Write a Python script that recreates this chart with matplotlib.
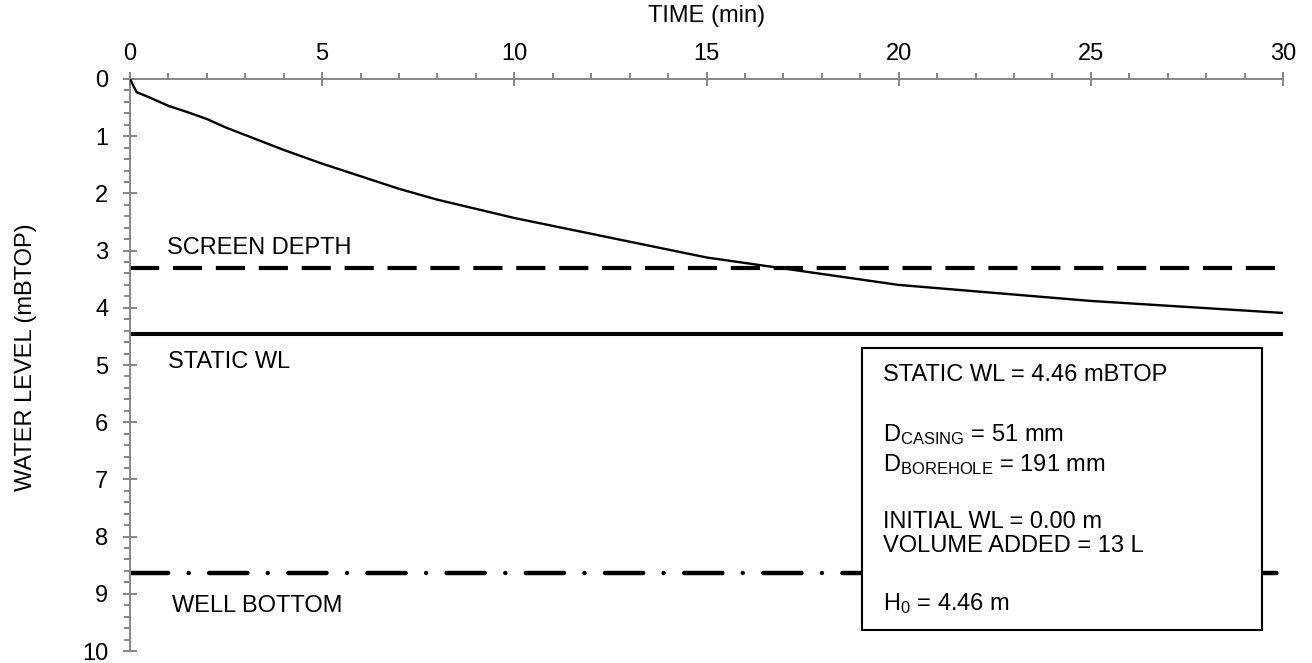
import matplotlib
matplotlib.use("Agg")
import matplotlib.pyplot as plt
from matplotlib.patches import Rectangle
from matplotlib.ticker import MultipleLocator

# Falling-head test data
time_min = [0, 0.17, 0.5, 1, 1.5, 2, 2.5, 3, 4, 5, 6, 7, 8, 9, 10, 15, 20, 25, 30]
water_level = [0, 0.23, 0.32, 0.47, 0.58, 0.70, 0.85, 0.98, 1.24, 1.48, 1.70, 1.92, 2.11,
               2.27, 2.43, 3.12, 3.60, 3.88, 4.09]

SCREEN_DEPTH = 3.30
STATIC_WL = 4.46
WELL_BOTTOM = 8.64

box_lines = [
    "STATIC WL = 4.46 mBTOP",
    r"D$_{\mathrm{CASING}}$ = 51 mm",
    r"D$_{\mathrm{BOREHOLE}}$ = 191 mm",
    "INITIAL WL = 0.00 m",
    "VOLUME ADDED = 13 L",
    r"H$_{\mathrm{0}}$ = 4.46 m",
]

plt.rcParams['font.family'] = ['Liberation Sans', 'DejaVu Sans']
plt.rcParams['mathtext.fontset'] = 'custom'
plt.rcParams['mathtext.rm'] = 'Liberation Sans'
plt.rcParams['mathtext.it'] = 'Liberation Sans'

AXCOL = "#868686"
FS = 17
W, H = 1312, 663

fig = plt.figure(figsize=(W/100, H/100), dpi=100)
ax = fig.add_axes([130/W, 1 - 651/H, 1153/W, 572/H])

# pixel helpers (figure pixel from top-left -> axes fraction)
def ax_x(px):
    return (px - 130) / 1153

def ax_y(py):
    return (651 - py) / 572

ax.plot(time_min, water_level, color="black", lw=1.7, zorder=4)
ax.plot([0, 30], [SCREEN_DEPTH]*2, color="black", lw=3.0,
        dashes=(7, 3.3), dash_capstyle="butt")
ax.plot([0, 30], [STATIC_WL]*2, color="black", lw=2.9)
ax.plot([0, 30], [WELL_BOTTOM]*2, color="black", lw=3.2,
        dashes=(8.6, 4.6, 0.01, 4.6), dash_capstyle="round")

ax.set_xlim(0, 30)
ax.set_ylim(10, 0)
ax.xaxis.set_major_locator(MultipleLocator(5))
ax.xaxis.set_minor_locator(MultipleLocator(1))
ax.yaxis.set_major_locator(MultipleLocator(1))
ax.yaxis.set_minor_locator(MultipleLocator(0.2))
ax.xaxis.tick_top()

for s in ["right", "bottom"]:
    ax.spines[s].set_visible(False)
for s in ["left", "top"]:
    ax.spines[s].set_color(AXCOL)
    ax.spines[s].set_linewidth(1.4)

ax.tick_params(axis="x", which="major", direction="inout", length=10, width=1.4, color=AXCOL,
               labelsize=FS, pad=5)
ax.tick_params(axis="x", which="minor", direction="out", length=4, width=1.4, color=AXCOL)
ax.tick_params(axis="y", which="major", direction="inout", length=9.5, width=1.4, color=AXCOL,
               labelsize=FS, pad=11)
ax.tick_params(axis="y", which="minor", direction="out", length=4.5, width=1.4, color=AXCOL)

fig.text(707/W, 1 - 16/H, "TIME (min)", fontsize=FS, ha="center", va="center")
fig.text(26/W, 1 - 357/H, "WATER LEVEL (mBTOP)", fontsize=FS, ha="center", va="center",
         rotation=90)

# line labels
ax.text(ax_x(167), ax_y(254), "SCREEN DEPTH", transform=ax.transAxes, fontsize=FS, va="baseline")
ax.text(ax_x(168), ax_y(368), "STATIC WL", transform=ax.transAxes, fontsize=FS, va="baseline")
ax.text(ax_x(172), ax_y(612), "WELL BOTTOM", transform=ax.transAxes, fontsize=FS, va="baseline")

# info box
bx0, bx1, by0, by1 = 862, 1262, 348, 630
ax.add_patch(Rectangle((ax_x(bx0), ax_y(by1)), ax_x(bx1) - ax_x(bx0), ax_y(by0) - ax_y(by1),
                       transform=ax.transAxes, facecolor="white", edgecolor="black",
                       lw=1.5, zorder=5))
baselines = [381, 441, 471, 528, 552, 610]
for py, s in zip(baselines, box_lines):
    ax.text(ax_x(883), ax_y(py), s, transform=ax.transAxes, fontsize=FS, va="baseline", zorder=6)

fig.savefig("out.png", dpi=100)
